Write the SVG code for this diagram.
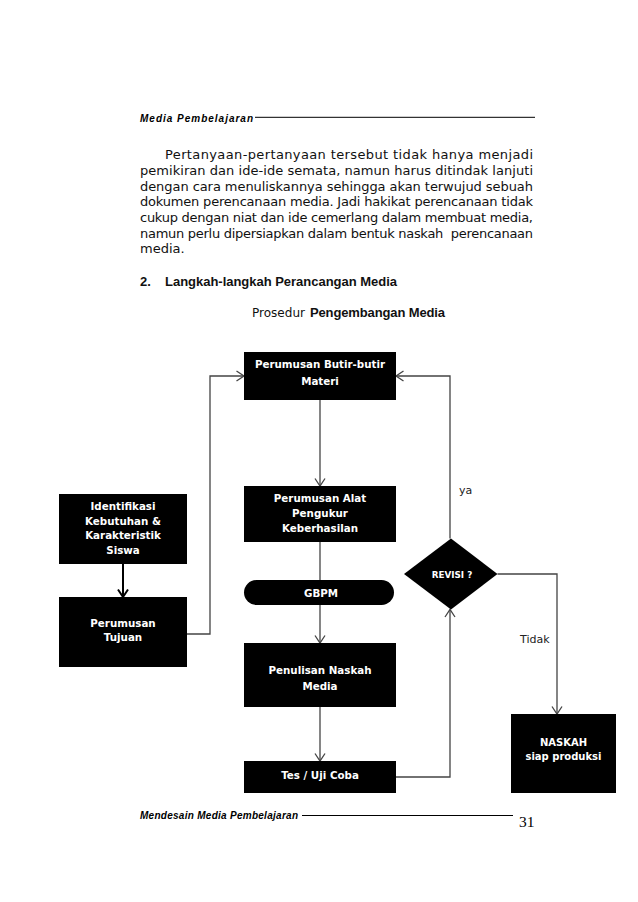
<svg xmlns="http://www.w3.org/2000/svg" width="638" height="902" viewBox="0 0 638 902">
<style>
.body{font-family:"DejaVu Sans",Verdana,sans-serif;font-size:13px;fill:#111}
.bold{font-family:"Liberation Sans",Arial,sans-serif;font-weight:bold}
.hdr{font-family:"Liberation Sans",Arial,sans-serif;font-size:10px;font-weight:bold;font-style:italic;fill:#000}
.box{fill:#000}
.lbl{font-family:"DejaVu Sans",Verdana,sans-serif;font-size:10.3px;font-weight:bold;fill:#fff;text-anchor:middle}
.note{font-family:"DejaVu Sans",Verdana,sans-serif;font-size:11px;fill:#222}
.con{fill:none;stroke:#444;stroke-width:1.3}
.conk{fill:none;stroke:#000;stroke-width:2}
</style>
<defs>
<marker id="arr" markerUnits="userSpaceOnUse" viewBox="0 0 10 12" refX="8.5" refY="6" markerWidth="10" markerHeight="12" orient="auto" overflow="visible">
<path d="M1,1 L8.5,6 L1,11" fill="none" stroke="#444" stroke-width="1.3"/>
</marker>
<marker id="arrk" markerUnits="userSpaceOnUse" viewBox="0 0 10 12" refX="8.5" refY="6" markerWidth="10" markerHeight="12" orient="auto" overflow="visible">
<path d="M1,1 L8.5,6 L1,11" fill="none" stroke="#000" stroke-width="2"/>
</marker>
</defs>
<rect width="638" height="902" fill="#fff"/>

<g id="header">
<text class="hdr" x="140" y="121.5" textLength="113" lengthAdjust="spacing">Media Pembelajaran</text>
<line x1="255" y1="117.3" x2="535" y2="117.3" stroke="#000" stroke-width="1"/>
</g>

<g id="paragraph">
<text class="body" x="165" y="159" textLength="368" lengthAdjust="spacing">Pertanyaan-pertanyaan tersebut tidak hanya menjadi</text>
<text class="body" x="140" y="175" textLength="393" lengthAdjust="spacing">pemikiran dan ide-ide semata, namun harus ditindak lanjuti</text>
<text class="body" x="140" y="190.5" textLength="393" lengthAdjust="spacing">dengan cara menuliskannya sehingga akan terwujud sebuah</text>
<text class="body" x="140" y="206" textLength="393" lengthAdjust="spacing">dokumen perencanaan media. Jadi hakikat perencanaan tidak</text>
<text class="body" x="140" y="222" textLength="393" lengthAdjust="spacing">cukup dengan niat dan ide cemerlang dalam membuat media,</text>
<text class="body" x="140" y="237.5" textLength="393" lengthAdjust="spacing" style="white-space:pre">namun perlu dipersiapkan dalam bentuk naskah  perencanaan</text>
<text class="body" x="140" y="253">media.</text>
</g>

<g id="heading">
<text class="body bold" x="140" y="286">2.</text>
<text class="body bold" x="165" y="286" textLength="232" lengthAdjust="spacing">Langkah-langkah Perancangan Media</text>
</g>

<g id="title">
<text class="body" x="252" y="317" textLength="53" lengthAdjust="spacingAndGlyphs">Prosedur</text>
<text class="body bold" x="310" y="317" textLength="135" lengthAdjust="spacing">Pengembangan Media</text>
</g>

<g id="connectors">
<line class="con" x1="320" y1="400" x2="320" y2="486" marker-end="url(#arr)"/>
<line class="con" x1="320" y1="542" x2="320" y2="580"/>
<line class="con" x1="320" y1="605" x2="320" y2="643" marker-end="url(#arr)"/>
<line class="con" x1="320" y1="707" x2="320" y2="761" marker-end="url(#arr)"/>
<polyline class="con" points="396,777 450,777 450,609.5" marker-end="url(#arr)"/>
<polyline class="con" points="450,538.5 450,376 396,376" marker-end="url(#arr)"/>
<polyline class="con" points="497.5,574 557,574 557,714" marker-end="url(#arr)"/>
<polyline class="con" points="187,634 210,634 210,376 244,376" marker-end="url(#arr)"/>
<line class="conk" x1="123" y1="564" x2="123" y2="597" marker-end="url(#arrk)"/>
<text class="note" x="459" y="494">ya</text>
<text class="note" x="520" y="643">Tidak</text>
</g>

<g id="n-butir">
<rect class="box" x="244" y="352" width="152" height="48"/>
<text class="lbl" x="320" y="368">Perumusan Butir-butir</text>
<text class="lbl" x="320" y="385">Materi</text>
</g>

<g id="n-alat">
<rect class="box" x="244" y="486" width="152" height="56"/>
<text class="lbl" x="320" y="502">Perumusan Alat</text>
<text class="lbl" x="320" y="516.5">Pengukur</text>
<text class="lbl" x="320" y="531.5">Keberhasilan</text>
</g>

<g id="n-gbpm">
<rect class="box" x="244" y="580" width="150" height="25" rx="12.5"/>
<text class="lbl" x="321" y="597">GBPM</text>
</g>

<g id="n-penulisan">
<rect class="box" x="244" y="643" width="152" height="64"/>
<text class="lbl" x="320" y="674">Penulisan Naskah</text>
<text class="lbl" x="320" y="690">Media</text>
</g>

<g id="n-tes">
<rect class="box" x="244" y="761" width="152" height="32"/>
<text class="lbl" x="320" y="779">Tes / Uji Coba</text>
</g>

<g id="n-identifikasi">
<rect class="box" x="59" y="494" width="128" height="70"/>
<text class="lbl" x="123" y="510">Identifikasi</text>
<text class="lbl" x="123" y="524.5">Kebutuhan &amp;</text>
<text class="lbl" x="123" y="539">Karakteristik</text>
<text class="lbl" x="123" y="554">Siswa</text>
</g>

<g id="n-tujuan">
<rect class="box" x="59" y="597" width="128" height="70"/>
<text class="lbl" x="123" y="627">Perumusan</text>
<text class="lbl" x="123" y="641">Tujuan</text>
</g>

<g id="n-revisi">
<polygon class="box" points="451,538.5 497.5,574 451,609.5 404,574"/>
<text class="lbl" x="452" y="578" style="font-size:8.8px">REVISI ?</text>
</g>

<g id="n-naskah">
<rect class="box" x="511" y="714" width="105" height="79"/>
<text class="lbl" x="563.5" y="746" style="font-size:10px">NASKAH</text>
<text class="lbl" x="563.5" y="759.5" style="font-size:10px">siap produksi</text>
</g>

<g id="footer">
<text class="hdr" x="140" y="819" textLength="158" lengthAdjust="spacing">Mendesain Media Pembelajaran</text>
<line x1="302" y1="815.5" x2="513" y2="815.5" stroke="#000" stroke-width="1"/>
<text x="519" y="827" font-family="'Liberation Serif','Times New Roman',serif" font-size="15.5" fill="#000">31</text>
</g>
</svg>
